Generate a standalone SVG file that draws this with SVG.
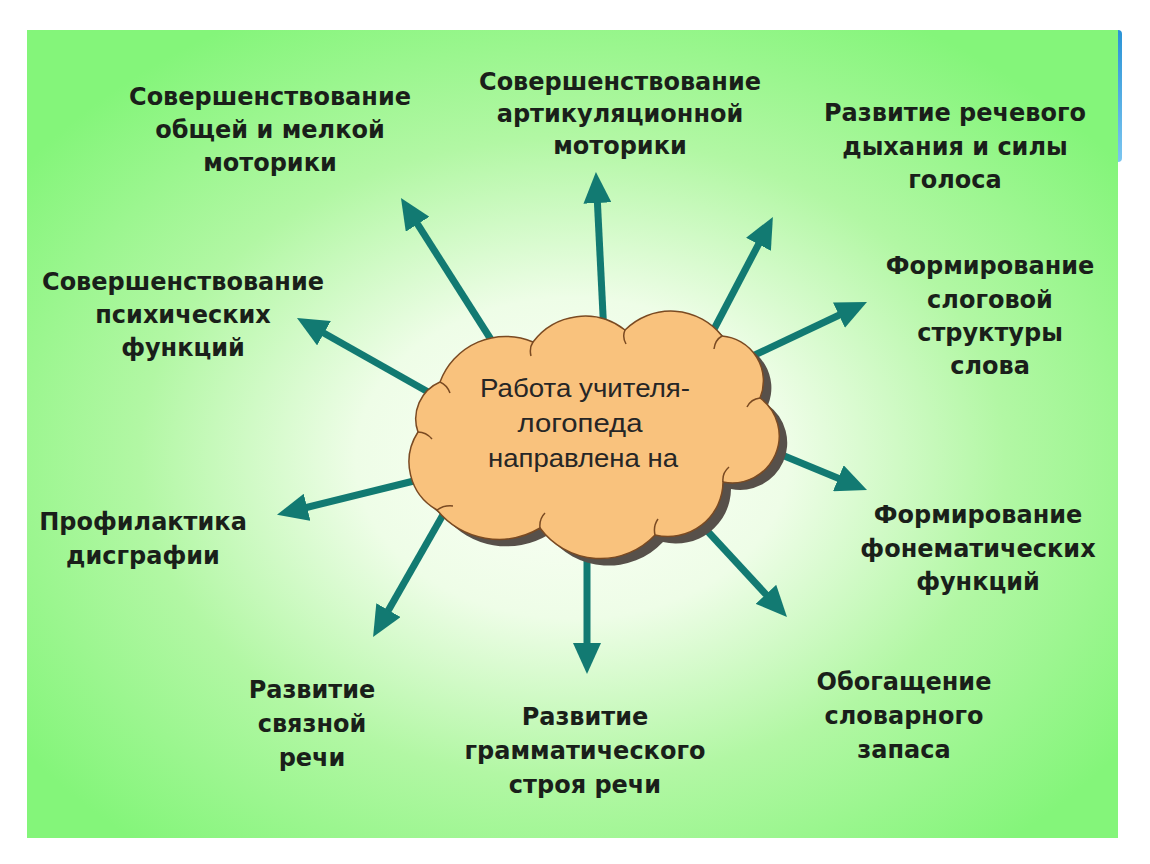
<svg xmlns="http://www.w3.org/2000/svg" width="1150" height="864" viewBox="0 0 1150 864">
  <defs>
    <radialGradient id="bg" cx="0.5" cy="0.53" r="0.62">
      <stop offset="0" stop-color="#fcfff8"/>
      <stop offset="0.32" stop-color="#eefde7"/>
      <stop offset="0.64" stop-color="#b2f7a4"/>
      <stop offset="1" stop-color="#84f57a"/>
    </radialGradient>
    <linearGradient id="blue" x1="0" y1="0" x2="0" y2="1">
      <stop offset="0" stop-color="#2a93d6"/>
      <stop offset="1" stop-color="#7cc6f0"/>
    </linearGradient>
    <marker id="ah" markerUnits="userSpaceOnUse" markerWidth="31" markerHeight="28" viewBox="0 0 31 28" refX="11" refY="14" orient="auto">
      <path d="M0,0 L31,14 L0,28 Z" fill="#127a72"/>
    </marker>
    <path id="cloudShape" d="M440,382 A70,70 0 0 1 533,342 A65,65 0 0 1 625,330 A65,65 0 0 1 722,336 A45,45 0 0 1 760,398 A47,47 0 0 1 723,482 A55,55 0 0 1 655,535 A75,75 0 0 1 540,528 A80,80 0 0 1 437,510 A55,55 0 0 1 418,432 A40,40 0 0 1 440,382 Z"/>
  </defs>
  <style>
    .lbl { font-family: "DejaVu Sans", Verdana, sans-serif; font-weight: bold; font-size: 24px; fill: #1a1f1a; text-anchor: middle; }
    .ctx { font-family: "Liberation Sans", Arial, sans-serif; font-size: 25px; fill: #262626; text-anchor: middle; }
    .arr { stroke: #127a72; stroke-width: 7; fill: none; marker-end: url(#ah); }
    .curl { fill: none; stroke: #7a4a22; stroke-width: 1.5; }
  </style>
  <rect x="0" y="0" width="1150" height="864" fill="#ffffff"/>
  <rect x="1114" y="30" width="8" height="132" rx="4" fill="url(#blue)"/>
  <rect x="27" y="30" width="1091" height="808" fill="url(#bg)"/>

  <g id="connectors">
    <line class="arr" x1="497" y1="349" x2="411.7" y2="214.9"/>
    <line class="arr" x1="604" y1="335" x2="596.9" y2="192"/>
    <line class="arr" x1="712" y1="333" x2="763.6" y2="234.6"/>
    <line class="arr" x1="742" y1="361" x2="848.9" y2="310.5"/>
    <line class="arr" x1="437" y1="397" x2="314.4" y2="327.8"/>
    <line class="arr" x1="426" y1="478" x2="296.4" y2="510"/>
    <line class="arr" x1="448" y1="506" x2="383" y2="619.7"/>
    <line class="arr" x1="587" y1="545" x2="587" y2="654"/>
    <line class="arr" x1="765" y1="448" x2="848.5" y2="482.4"/>
    <line class="arr" x1="688" y1="510" x2="773.4" y2="602.4"/>
  </g>

  <g id="center">
    <use href="#cloudShape" transform="translate(8,7)" fill="#57504a"/>
    <use href="#cloudShape" fill="#f9c27d" stroke="#7a4a22" stroke-width="1.5"/>
    <path class="curl" d="M533,342 q-4,6 -2,14 M625,330 q-3,7 1,14 M722,336 q-7,4 -8,13 M760,398 q-9,1 -13,9 M723,482 q-1,-9 6,-15 M655,535 q-2,-9 3,-16 M540,528 q-1,-9 5,-15 M437,510 q7,-5 16,-4 M418,432 q8,0 14,7 M440,382 q7,3 10,11"/>
    <text class="ctx" x="585" y="397" textLength="210" lengthAdjust="spacingAndGlyphs">Работа учителя-</text>
    <text class="ctx" x="580" y="432" textLength="125" lengthAdjust="spacingAndGlyphs">логопеда</text>
    <text class="ctx" x="583" y="467" textLength="190" lengthAdjust="spacingAndGlyphs">направлена  на</text>
  </g>

  <g id="n1"><text class="lbl" x="270" y="105">Совершенствование</text><text class="lbl" x="270" y="138">общей и мелкой</text><text class="lbl" x="270" y="171">моторики</text></g>
  <g id="n2"><text class="lbl" x="620" y="90">Совершенствование</text><text class="lbl" x="620" y="122">артикуляционной</text><text class="lbl" x="620" y="154">моторики</text></g>
  <g id="n3"><text class="lbl" x="955" y="121">Развитие речевого</text><text class="lbl" x="955" y="155">дыхания и силы</text><text class="lbl" x="955" y="188">голоса</text></g>
  <g id="n4"><text class="lbl" x="183" y="290">Совершенствование</text><text class="lbl" x="183" y="323">психических</text><text class="lbl" x="183" y="356">функций</text></g>
  <g id="n5"><text class="lbl" x="990" y="274">Формирование</text><text class="lbl" x="990" y="308">слоговой</text><text class="lbl" x="990" y="341">структуры</text><text class="lbl" x="990" y="374">слова</text></g>
  <g id="n6"><text class="lbl" x="978" y="523">Формирование</text><text class="lbl" x="978" y="557">фонематических</text><text class="lbl" x="978" y="590">функций</text></g>
  <g id="n7"><text class="lbl" x="143" y="530">Профилактика</text><text class="lbl" x="143" y="564">дисграфии</text></g>
  <g id="n8"><text class="lbl" x="312" y="698">Развитие</text><text class="lbl" x="312" y="732">связной</text><text class="lbl" x="312" y="766">речи</text></g>
  <g id="n9"><text class="lbl" x="585" y="725">Развитие</text><text class="lbl" x="585" y="759">грамматического</text><text class="lbl" x="585" y="793">строя речи</text></g>
  <g id="n10"><text class="lbl" x="904" y="690">Обогащение</text><text class="lbl" x="904" y="724">словарного</text><text class="lbl" x="904" y="758">запаса</text></g>
</svg>
